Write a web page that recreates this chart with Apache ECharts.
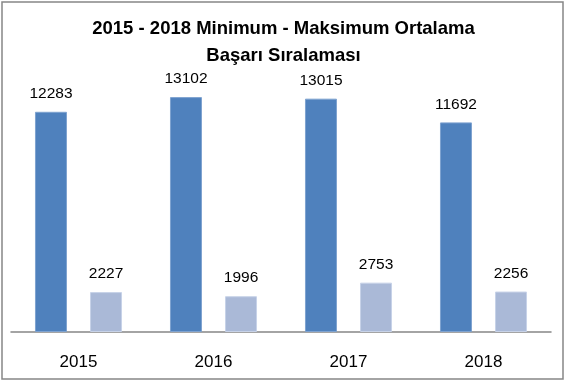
<!DOCTYPE html>
<html><head><meta charset="utf-8">
<script src="https://cdn.jsdelivr.net/npm/echarts@6/dist/echarts.min.js"></script>
<style>html,body{margin:0;padding:0;background:#fff}#c{width:567px;height:384px}</style>
</head><body><div id="c"></div>
<script>
const categories = ['2015', '2016', '2017', '2018'];
const maxValues = [12283, 13102, 13015, 11692];
const minValues = [2227, 1996, 2753, 2256];
const titleLines = ['2015 - 2018 Minimum - Maksimum Ortalama', 'Başarı Sıralaması'];

const font = 'Liberation Sans, Arial, sans-serif';
const chart = echarts.init(document.getElementById('c'), null, {renderer: 'canvas'});
const lbl = {show: true, position: 'top', distance: 10, color: '#000', fontSize: 15.5, fontFamily: font};
chart.setOption({
  animation: false,
  graphic: [{type: 'rect', shape: {x: 2, y: 2, width: 561, height: 377}, style: {fill: 'none', stroke: '#868686', lineWidth: 1.5}, silent: true}],
  title: {
    text: titleLines.join('\n'), left: 'center', top: 10,
    textStyle: {fontSize: 18.5, fontWeight: 'bold', fontFamily: font, color: '#000', lineHeight: 27}
  },
  grid: {left: 11, right: 16, top: 81, bottom: 52, containLabel: false},
  xAxis: {
    type: 'category', data: categories,
    axisLine: {lineStyle: {color: '#868686', width: 1.5}},
    axisTick: {show: false},
    axisLabel: {color: '#000', fontSize: 17, fontFamily: font, margin: 22}
  },
  yAxis: {type: 'value', min: 0, max: 14000, show: false, splitLine: {show: false}},
  series: [
    {type: 'bar', data: maxValues, barWidth: 32, barGap: '72%',
     itemStyle: {color: '#4F81BD', borderColor: '#7FA3D0', borderWidth: 1}, label: lbl},
    {type: 'bar', data: minValues, barWidth: 32,
     itemStyle: {color: '#AAB9D7', borderColor: '#C8D3E8', borderWidth: 1}, label: lbl}
  ]
});
</script></body></html>
